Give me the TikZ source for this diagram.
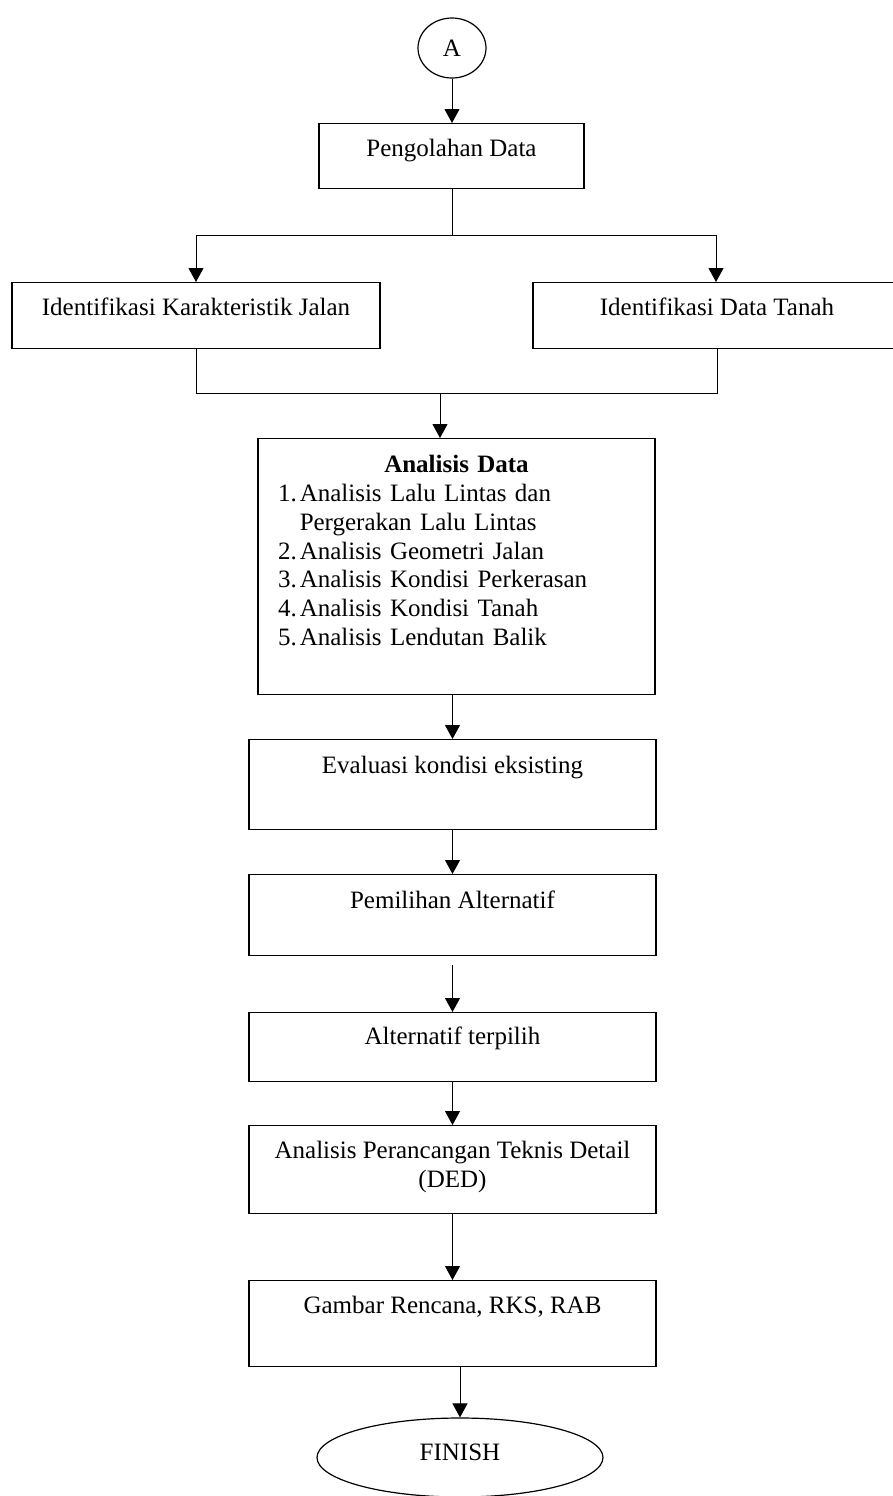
\documentclass[tikz,border=0pt]{standalone}
\usepackage{fontspec}
\setmainfont{Liberation Serif}
\usetikzlibrary{shapes,arrows.meta}

\begin{document}
\begin{tikzpicture}[x=0.5pt,y=-0.5pt,
  every node/.style={font=\fontsize{12.5}{14.4}\selectfont},
  proses/.style={draw,line width=0.6pt,rectangle,anchor=north,inner sep=0pt,text height=16.5pt},
  panah/.style={line width=0.5pt,-{Triangle[length=7pt,width=7.5pt]}},
  garis/.style={line width=0.5pt}]
\useasboundingbox (0,0) rectangle (893,1496);
\node[draw,line width=0.6pt,ellipse,minimum width=34pt,minimum height=30pt,inner sep=0pt] (A) at (452,48) {A};
\node[proses,minimum width=132.5pt,text depth=16pt] (pengolahan) at (451.5,123) {Pengolahan Data};
\node[proses,minimum width=184pt,text depth=16.5pt] (jalan) at (196,282) {Identifikasi Karakteristik Jalan};
\node[proses,minimum width=184pt,text depth=16.5pt] (tanah) at (717,282) {Identifikasi Data Tanah};
\node[proses,text width=178.5pt,inner xsep=10pt,text height=17pt,text depth=111pt] (analisis) at (456.5,438) {{\centering\textbf{Analisis Data}\par}
\begin{tabular}[t]{@{}l@{\hspace{1.5pt}}l@{}}
1. & Analisis Lalu Lintas dan\\
   & Pergerakan Lalu Lintas\\
2. & Analisis Geometri Jalan\\
3. & Analisis Kondisi Perkerasan\\
4. & Analisis Kondisi Tanah\\
5. & Analisis Lendutan Balik
\end{tabular}};
\node[proses,minimum width=203.5pt,text height=17pt,text depth=28pt] (evaluasi) at (452.5,739) {Evaluasi kondisi eksisting};
\node[proses,minimum width=203.5pt,text height=17pt,text depth=23.5pt] (pemilihan) at (452.5,874) {Pemilihan Alternatif};
\node[proses,minimum width=203.5pt,text height=16pt,text depth=18.5pt] (alternatif) at (452.5,1012) {Alternatif terpilih};
\node[proses,align=center,minimum width=203.5pt,text height=30.9pt,text depth=13.1pt] (ded) at (452.5,1125) {Analisis Perancangan Teknis Detail\\(DED)};
\node[proses,minimum width=203.5pt,text depth=26.5pt] (gambar) at (452.5,1280) {Gambar Rencana, RKS, RAB};
\node[draw,line width=0.6pt,ellipse,minimum width=143pt,minimum height=39.5pt,inner sep=0pt,text depth=5pt] (finish) at (460,1457.5) {FINISH};
\draw[panah] (A.south) -- (A.south |- pengolahan.north);
\coordinate (cabang) at (452,235);
\draw[garis] (pengolahan.south -| cabang) -- (cabang);
\draw[panah] (cabang) -| (jalan.north);
\draw[panah] (cabang) -| ([xshift=-0.5pt]tanah.north);
\coordinate (gabung) at (440,393);
\draw[garis] (jalan.south) |- (gabung);
\draw[garis] (tanah.south) |- (gabung);
\draw[panah] (gabung) -- (gabung |- analisis.north);
\draw[panah] (analisis.south -| evaluasi.north) -- (evaluasi.north);
\draw[panah] (evaluasi.south) -- (pemilihan.north);
\draw[panah] ([yshift=-4.5pt]pemilihan.south) -- (alternatif.north);
\draw[panah] (alternatif.south) -- (ded.north);
\draw[panah] (ded.south) -- (gambar.north);
\draw[panah] (gambar.south -| finish.north) -- (finish.north);
\end{tikzpicture}
\end{document}
